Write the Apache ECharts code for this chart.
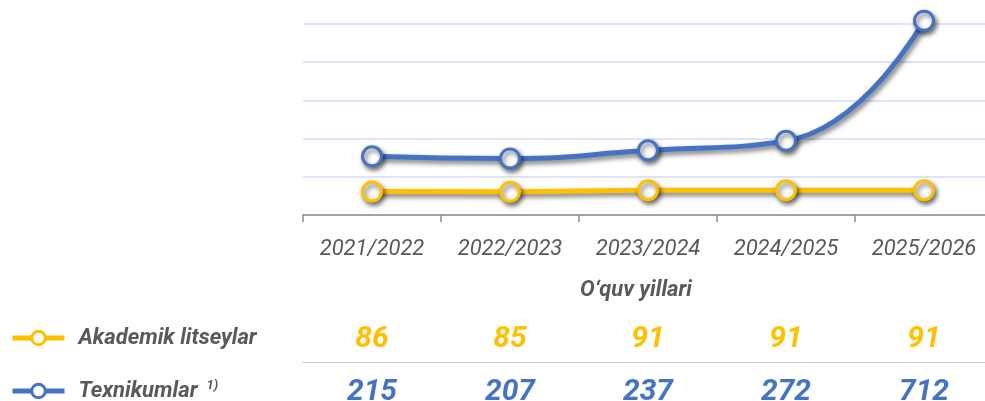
<!DOCTYPE html>
<html>
<head>
<meta charset="utf-8">
<script src="https://cdn.jsdelivr.net/npm/echarts@6/dist/echarts.min.js"></script>
<style>
html,body{margin:0;padding:0;background:#fff;}
#chart{width:985px;height:401px;}
</style>
</head>
<body>
<div id="chart"></div>
<script>
const categories = ['2021/2022', '2022/2023', '2023/2024', '2024/2025', '2025/2026'];
const akademikValues = [86, 85, 91, 91, 91];
const texnikumValues = [215, 207, 237, 272, 712];
const seriesNames = ['Akademik litseylar', 'Texnikumlar'];
const axisTitle = 'O‘quv yillari';

const YELLOW = '#FFC000';
const BLUE = '#4472C4';
const GRAY = '#595959';
const FONT = 'Roboto';

const chart = echarts.init(document.getElementById('chart'), null, {renderer: 'canvas'});

const shadow = {shadowColor: 'rgba(0,0,0,0.55)', shadowBlur: 5, shadowOffsetX: 2, shadowOffsetY: 3};

function lineSeries(name, data, color) {
  return {
    name: name,
    type: 'line',
    data: data,
    color: color,
    smooth: 0.5,
    clip: false,
    symbol: 'circle',
    symbolSize: 19,
    lineStyle: Object.assign({color: color, width: 5}, shadow),
    itemStyle: Object.assign({color: '#fff', borderColor: color, borderWidth: 3}, shadow),
    emphasis: {disabled: true},
    z: 3
  };
}

const noShadow = {shadowBlur: 0, shadowOffsetX: 0, shadowOffsetY: 0, shadowColor: 'transparent'};

function legendFor(name, color, top) {
  return {
    orient: 'vertical',
    left: 10,
    top: top,
    padding: 0,
    itemWidth: 52,
    itemHeight: 17,
    selectedMode: false,
    data: [{name: name, lineStyle: Object.assign({width: 5, color: color}, noShadow),
      itemStyle: Object.assign({color: '#fff', borderColor: color, borderWidth: 3}, noShadow)}],
    formatter: function (n) {
      if (n === seriesNames[1]) return '{n|' + n + '}{s|1)}';
      return '{n|' + n + '}';
    },
    textStyle: {
      padding: [0, 0, 0, 9],
      rich: {
        n: {fontFamily: FONT, fontSize: 22, fontWeight: 'bold', fontStyle: 'italic', color: GRAY, lineHeight: 24},
        s: {fontFamily: FONT, fontSize: 13, fontWeight: 'bold', fontStyle: 'italic', color: GRAY, padding: [0, 0, 11, 9]}
      }
    }
  };
}

const option = {
  animation: false,
  backgroundColor: '#fff',
  grid: {left: 303, top: 24, width: 690, height: 191, containLabel: false, outerBoundsMode: 'none'},
  legend: [
    legendFor(seriesNames[0], YELLOW, 327),
    legendFor(seriesNames[1], BLUE, 379)
  ],
  xAxis: [
    {
      type: 'category',
      data: categories,
      boundaryGap: true,
      position: 'bottom',
      axisLine: {show: true, lineStyle: {color: '#8c8c8c', width: 1.5}},
      axisTick: {show: true, length: 7, alignWithLabel: false, lineStyle: {color: '#8c8c8c', width: 1.5}},
      axisLabel: {interval: 0, margin: 23, color: GRAY, fontFamily: FONT, fontSize: 22, fontStyle: 'italic'},
      name: axisTitle,
      nameLocation: 'middle',
      nameGap: 64,
      nameTextStyle: {color: GRAY, fontFamily: FONT, fontSize: 22, fontWeight: 'bold', fontStyle: 'italic', padding: [0, 24, 0, 0]},
      splitLine: {show: false}
    },
    {
      type: 'category',
      data: akademikValues.map(String),
      position: 'bottom',
      offset: 100,
      axisLine: {show: false},
      axisTick: {show: false},
      axisLabel: {interval: 0, margin: 9, color: YELLOW, fontFamily: FONT, fontSize: 30, fontWeight: 'bold', fontStyle: 'italic'}
    },
    {
      type: 'category',
      data: texnikumValues.map(String),
      position: 'bottom',
      offset: 147,
      axisLine: {show: true, lineStyle: {color: '#c8c8c8', width: 1}},
      axisTick: {show: false},
      axisLabel: {interval: 0, margin: 15, color: BLUE, fontFamily: FONT, fontSize: 30, fontWeight: 'bold', fontStyle: 'italic'}
    }
  ],
  yAxis: {
    type: 'value',
    min: 0,
    max: 700,
    interval: 140,
    axisLine: {show: false},
    axisTick: {show: false},
    axisLabel: {show: false},
    splitLine: {show: true, lineStyle: {color: '#d6d8f7', width: 1.5}}
  },
  series: [
    lineSeries(seriesNames[0], akademikValues, YELLOW),
    lineSeries(seriesNames[1], texnikumValues, BLUE)
  ]
};

chart.setOption(option);
</script>
</body>
</html>
